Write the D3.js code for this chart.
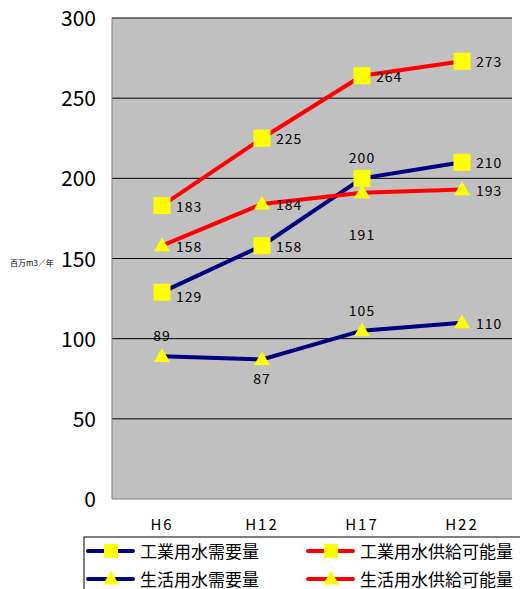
<!DOCTYPE html>
<html><head><meta charset="utf-8">
<script src="https://cdn.jsdelivr.net/npm/d3@7"></script>
<style>body{margin:0;background:#fff}text{font-family:"Noto Sans CJK JP",sans-serif}</style>
</head><body><div id="chart"></div>
<script>
const years = ["H6", "H12", "H17", "H22"];
const indDemand = [129, 158, 200, 210];
const indSupply = [183, 225, 264, 273];
const lifeDemand = [89, 87, 105, 110];
const lifeSupply = [158, 184, 191, 193];
const yTicks = [0, 50, 100, 150, 200, 250, 300];

const series = [
  {name: "工業用水需要量", values: indDemand, color: "#000080", marker: "square", labelPos: ["rb", "r", "t", "r"]},
  {name: "工業用水供給可能量", values: indSupply, color: "#ff0000", marker: "square", labelPos: ["r", "r", "r", "r"]},
  {name: "生活用水需要量", values: lifeDemand, color: "#000080", marker: "tri", labelPos: ["t", "b", "t", "r"]},
  {name: "生活用水供給可能量", values: lifeSupply, color: "#ff0000", marker: "tri", labelPos: ["r", "r", "bb", "r"]}
];

const svg = d3.select("#chart").append("svg").attr("width", 520).attr("height", 589);
const x = d3.scaleBand().domain(years).range([112, 512]);
const y = d3.scaleLinear().domain([0, 300]).range([499, 18]);
const cx = d => x(d) + x.bandwidth() / 2;

svg.append("rect").attr("x", 112).attr("y", 18).attr("width", 400).attr("height", 481).attr("fill", "#c0c0c0");
svg.selectAll("line.grid").data(yTicks.slice(1)).join("line")
  .attr("x1", 112).attr("x2", 512).attr("y1", d => y(d)).attr("y2", d => y(d))
  .attr("stroke", "#000").attr("stroke-width", 1);
svg.append("line").attr("x1", 112).attr("x2", 112).attr("y1", 18).attr("y2", 499).attr("stroke", "#808080");
svg.append("line").attr("x1", 112).attr("x2", 512).attr("y1", 499).attr("y2", 499).attr("stroke", "#808080");

svg.selectAll("text.yt").data(yTicks).join("text")
  .attr("x", 96).attr("y", d => y(d) + 8).attr("text-anchor", "end")
  .attr("font-size", 21).attr("font-family", "Liberation Sans, Arial").text(d => d);
svg.selectAll("text.xt").data(years).join("text")
  .attr("x", d => cx(d)).attr("y", 530).attr("text-anchor", "middle")
  .attr("font-size", 15).attr("letter-spacing", 2).attr("font-family", "Liberation Sans, Arial").text(d => d);
svg.append("text").attr("x", 10).attr("y", 266).attr("font-size", 8).text("百万m3／年");

const line = d3.line().x((d, i) => cx(years[i])).y(d => y(d));
const tri = d3.symbol().type(d3.symbolTriangle).size(110);

function marker(g, type, px, py, s) {
  if (type === "square") {
    g.append("rect").attr("x", px - s / 2).attr("y", py - s / 2).attr("width", s).attr("height", s).attr("fill", "#ffff00");
  } else {
    g.append("path").attr("d", tri).attr("transform", `translate(${px},${py + 1})`).attr("fill", "#ffff00");
  }
}

series.forEach(s => {
  svg.append("path").datum(s.values).attr("d", line).attr("fill", "none")
    .attr("stroke", s.color).attr("stroke-width", 4);
  s.values.forEach((v, i) => {
    const px = cx(years[i]), py = y(v);
    marker(svg, s.marker, px, py, 17);
    const p = s.labelPos[i];
    const mid = p === "t" || p === "b" || p === "bb";
    const dx = mid ? 0 : 14;
    const dy = {t: -15, b: 24, bb: 47, rb: 10, r: 6}[p];
    svg.append("text").attr("x", px + dx).attr("y", py + dy)
      .attr("text-anchor", mid ? "middle" : "start").attr("font-size", 14).attr("letter-spacing", 1)
      .attr("font-family", "DejaVu Sans Mono, monospace").text(v);
  });
});

// legend
svg.append("rect").attr("x", 84).attr("y", 537).attr("width", 450).attr("height", 60)
  .attr("fill", "#fff").attr("stroke", "#000");
series.forEach((s, i) => {
  const lx = 88 + (i % 2) * 220, ly = 551 + Math.floor(i / 2) * 28;
  svg.append("line").attr("x1", lx).attr("x2", lx + 45).attr("y1", ly).attr("y2", ly)
    .attr("stroke", s.color).attr("stroke-width", 4).attr("stroke-linecap", "round");
  marker(svg, s.marker, lx + 23, ly, 14);
  svg.append("text").attr("x", lx + 52).attr("y", ly + 7).attr("font-size", 17).text(s.name);
});
</script></body></html>
